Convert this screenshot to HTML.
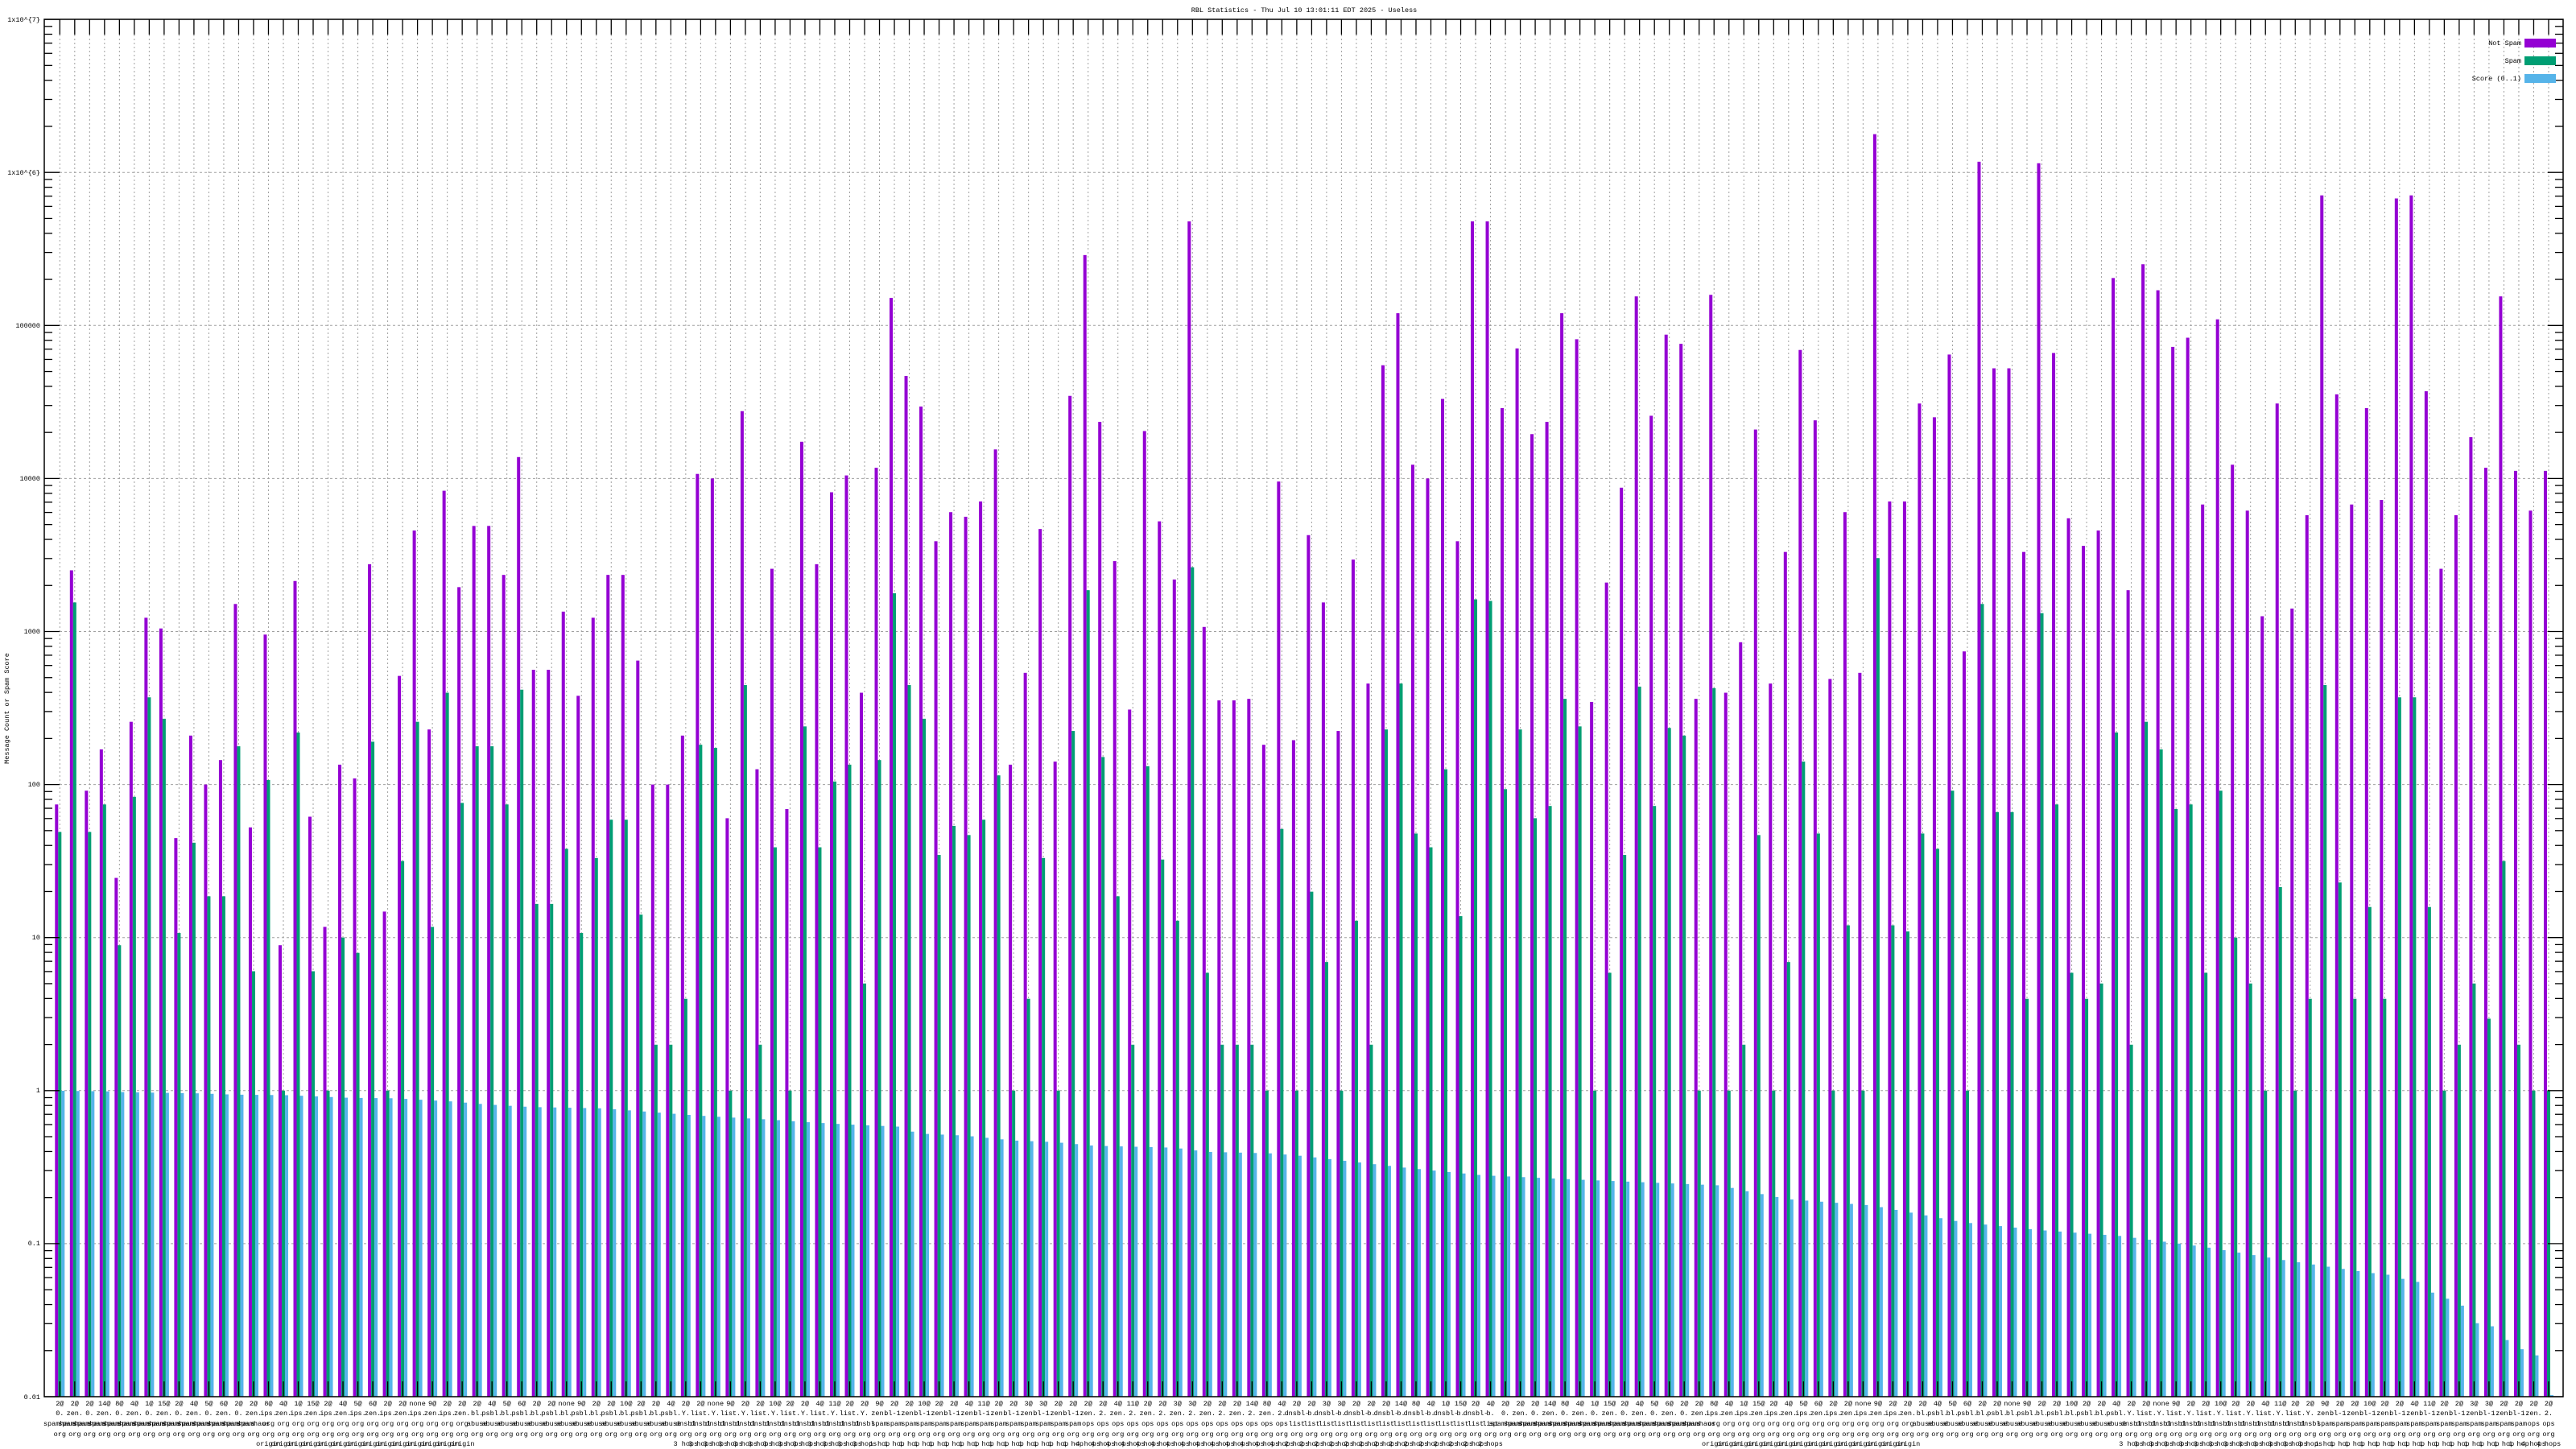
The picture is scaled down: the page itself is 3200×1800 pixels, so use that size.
<!DOCTYPE html>
<html><head><meta charset="utf-8"><style>
html,body{margin:0;padding:0;background:#fff;}
svg{display:block;}
text{font-family:"Liberation Mono","DejaVu Sans Mono",monospace;font-size:8.5px;fill:#000;}
</style></head><body>
<svg id="s" xmlns="http://www.w3.org/2000/svg" width="3200" height="1800" viewBox="0 0 3200 1800">
<rect x="0" y="0" width="3200" height="1800" fill="#fff"/>
<g id="grid"></g>
<g id="bars"></g>
<g id="axes"></g>
<text x="1620" y="15" text-anchor="middle">RBL Statistics - Thu Jul 10 13:01:11 EDT 2025 - Useless</text>
<text transform="translate(11,880) rotate(-90)" text-anchor="middle">Message Count or Spam Score</text>
<g text-anchor="end">
<text x="50" y="27">1x10^{7}</text>
<text x="50" y="217">1x10^{6}</text>
<text x="50" y="407">100000</text>
<text x="50" y="597">10000</text>
<text x="50" y="787">1000</text>
<text x="50" y="977">100</text>
<text x="50" y="1167">10</text>
<text x="50" y="1357">1</text>
<text x="50" y="1547">0.1</text>
<text x="50" y="1738">0.01</text>
<text x="3132" y="56">Not Spam</text>
<text x="3132" y="78">Spam</text>
<text x="3132" y="100">Score (0..1)</text>
</g>
<rect x="3136" y="48" width="39" height="11" fill="#9400d3"/>
<rect x="3136" y="70" width="39" height="11" fill="#009e73"/>
<rect x="3136" y="92" width="39" height="11" fill="#56b4e9"/>
<g id="xl" text-anchor="middle"></g>
</svg>
<script>
var NS="http://www.w3.org/2000/svg";
function el(p,t,a,txt){var e=document.createElementNS(NS,t);for(var k in a)e.setAttribute(k,a[k]);if(txt!=null)e.textContent=txt;p.appendChild(e);return e;}
var P=[1.87,3.40,1.96,2.23,1.39,2.41,3.09,3.02,1.65,2.32,2.0,2.16,3.18,1.72,2.98,0.95,3.33,1.79,1.07,2.13,2.04,3.44,1.17,2.71,3.66,2.36,3.92,3.29,3.69,3.69,3.37,4.14,2.75,2.75,3.13,2.58,3.09,3.37,3.37,2.81,2.0,2.0,
2.32,4.03,4.00,1.78,4.44,2.10,3.41,1.84,4.24,3.44,3.91,4.02,2.60,4.07,5.18,4.67,4.47,3.59,3.78,3.75,3.85,4.19,2.13,2.73,3.67,2.15,4.54,5.46,4.37,3.46,2.49,4.31,3.72,3.34,5.68,3.03,2.55,2.55,2.56,2.26,3.98,2.29,3.63,
3.19,2.35,3.47,2.66,4.74,5.08,4.09,4.00,4.52,3.59,5.68,5.68,4.46,4.85,4.29,4.37,5.08,4.91,2.54,3.32,3.94,5.19,4.41,4.94,4.88,2.56,5.20,2.60,2.93,4.32,2.66,3.52,4.84,4.38,2.69,3.78,2.73,6.25,3.85,3.85,4.49,4.40,4.81,
2.87,6.07,4.72,4.72,3.52,6.06,4.82,3.74,3.56,3.66,5.31,3.27,5.40,5.23,4.86,4.92,3.83,5.04,4.09,3.79,3.10,4.49,3.15,3.76,5.85,4.55,3.83,4.46,3.86,5.83,5.85,4.57,3.41,3.76,4.27,4.07,5.19,4.05,3.79,4.05];
var G=[1.69,3.19,1.69,1.87,0.95,1.92,2.57,2.43,1.03,1.62,1.27,1.27,2.25,0.78,2.03,0,2.34,0.78,0,1.0,0.90,2.28,0,1.50,2.41,1.07,2.60,1.88,2.25,2.25,1.87,2.62,1.22,1.22,1.58,1.03,1.52,1.77,1.77,1.15,0.30,0.30,
0.60,2.26,2.24,0,2.65,0.30,1.59,0,2.38,1.59,2.02,2.13,0.70,2.16,3.25,2.65,2.43,1.54,1.73,1.67,1.77,2.06,0,0.60,1.52,0,2.35,3.27,2.18,1.27,0.30,2.12,1.51,1.11,3.42,0.77,0.30,0.30,0.30,0,1.71,0,1.30,
0.84,0,1.11,0.30,2.36,2.66,1.68,1.59,2.10,1.14,3.21,3.20,1.97,2.36,1.78,1.86,2.56,2.38,0,0.77,1.54,2.64,1.86,2.37,2.32,0,2.63,0,0.30,1.67,0,0.84,2.15,1.68,0,1.08,0,3.48,1.08,1.04,1.68,1.58,1.96,
0,3.18,1.82,1.82,0.60,3.12,1.87,0.77,0.60,0.70,2.34,0.30,2.41,2.23,1.84,1.87,0.77,1.96,1.0,0.70,0,1.33,0,0.60,2.65,1.36,0.60,1.20,0.60,2.57,2.57,1.20,0,0.30,0.70,0.47,1.50,0.30,0,0];
var BP=[[60,0],[130,-0.005],[150,-0.01],[245,-0.018],[285,-0.026],[355,-0.03],[430,-0.047],[485,-0.05],[555,-0.07],[600,-0.09],[655,-0.107],[745,-0.116],[805,-0.14],[855,-0.16],[885,-0.17],[955,-0.19],[995,-0.205],[1045,-0.22],[1115,-0.236],[1135,-0.28],[1195,-0.294],[1255,-0.326],[1305,-0.336],[1355,-0.36],[1455,-0.373],[1495,-0.40],[1575,-0.41],[1612,-0.426],[1744,-0.505],[1837,-0.553],[1950,-0.58],[2136,-0.62],[2156,-0.647],[2218,-0.71],[2321,-0.75],[2383,-0.81],[2434,-0.86],[2527,-0.91],[2630,-0.95],[2733,-1.02],[2836,-1.11],[2939,-1.19],[3011,-1.23]];
var BX={157:-1.23,158:-1.25,159:-1.32,160:-1.36,161:-1.405,162:-1.52,163:-1.54,164:-1.63,165:-1.69,166:-1.73,167:-1.99};
function interp(x){for(var k=0;k<BP.length-1;k++){if(x<=BP[k+1][0]){var a=BP[k],b=BP[k+1];return a[1]+(b[1]-a[1])*(x-a[0])/(b[0]-a[0]);}}return BP[BP.length-1][1];}
function Y(l){return 1735-(l+2)*190.1;}
var grid=document.getElementById('grid'),bars=document.getElementById('bars'),axes=document.getElementById('axes'),xl=document.getElementById('xl');
var N=168,SP=18.513,X0=68.3;
// horizontal grid
for(var d=-1;d<=6;d++){var y=Y(d);el(grid,'line',{x1:74,x2:3165,y1:y,y2:y,stroke:'#a0a0a0','stroke-width':1,'stroke-dasharray':'3,3'});}
for(var i=0;i<N;i++){
 var c=X0+i*SP+6;
 el(grid,'line',{x1:c,x2:c,y1:43,y2:1716,stroke:'#a0a0a0','stroke-width':1,'stroke-dasharray':'2,3'});
 var x=X0+i*SP;
 var yp=Y(P[i]);el(bars,'rect',{x:x,y:yp,width:4,height:1735-yp,fill:'#9400d3'});
 var yg=Y(G[i]);el(bars,'rect',{x:x+4,y:yg,width:4,height:1735-yg,fill:'#009e73'});
 var bl=(BX[i]!==undefined)?BX[i]:interp(c);
 var yb=Y(bl);el(bars,'rect',{x:x+8,y:yb,width:4,height:1735-yb,fill:'#56b4e9'});
 el(axes,'line',{x1:c,x2:c,y1:24,y2:43,stroke:'#000','stroke-width':1.3});
 el(axes,'line',{x1:c,x2:c,y1:1735,y2:1716,stroke:'#000','stroke-width':1.3});
}
// y ticks
for(var d=-2;d<=7;d++){
 var y=Y(d);
 el(axes,'line',{x1:55,x2:74,y1:y,y2:y,stroke:'#000','stroke-width':1.3});
 el(axes,'line',{x1:3165,x2:3184,y1:y,y2:y,stroke:'#000','stroke-width':1.3});
 if(d<7)for(var m=2;m<=9;m++){var ym=Y(d+Math.log10(m));
  el(axes,'line',{x1:55,x2:65,y1:ym,y2:ym,stroke:'#000','stroke-width':1.3});
  el(axes,'line',{x1:3174,x2:3184,y1:ym,y2:ym,stroke:'#000','stroke-width':1.3});}
}
el(axes,'rect',{x:55,y:24,width:3129,height:1711,fill:'none',stroke:'#000','stroke-width':1.5});
// x labels
var L1=['9@','2@','2@','2@','8@','2@','2@','2@','2@','2@','2@','4@','4@','2@','2@','4@','3@','2@','1@','5@','none','10@','11@','3@','14@','15@','6@'];
var L2=['zen.','bl.','zen.','zen.','Y.','zen.','dnsbl-','bl-1.','psbl.','0.','2.','list.','ips.','b.'];
var L3=['spam','spamhaus','dnsbl','list','abuse','ops','org'];
var L4=['org','net','org','com','org','net'];
var L5=['1 hop','2 hops','origin','3 hops','4 hops','',''];
for(var i=0;i<N;i++){
 var c=X0+i*SP+6;var h=(i*7+3)%97;
 el(xl,'text',{x:c,y:1746},L1[h%L1.length]);
 el(xl,'text',{x:c,y:1758},L2[(h*3)%L2.length]);
 el(xl,'text',{x:c,y:1771},L3[(h*5)%L3.length]);
 el(xl,'text',{x:c,y:1784},L4[(h*2)%L4.length]);
 var l5=L5[(h*11)%L5.length];if(l5)el(xl,'text',{x:c,y:1796},l5);
}
</script>
</body></html>
